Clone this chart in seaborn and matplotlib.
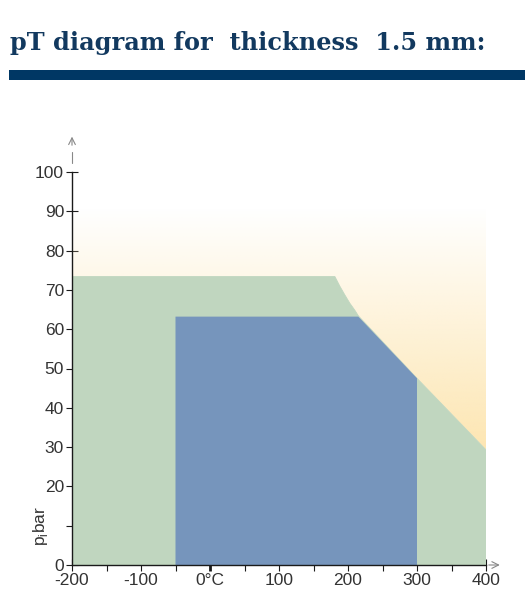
import matplotlib
matplotlib.use("Agg")
import matplotlib.pyplot as plt
from matplotlib.patches import Polygon, Rectangle
from matplotlib.colors import to_rgb
import numpy as np
import pandas as pd
import seaborn as sns

# operating envelope (temperature in °C, pressure in bar)
green_T = [-200, 181, 188, 195.5, 202.7, 210, 215, 300, 400]
green_p = [73.4, 73.4, 71.0, 68.7, 66.6, 64.8, 63.4, 47.5, 29.3]

blue_T = [-50, 215, 300, 300, -50]
blue_p = [63.2, 63.2, 47.5, 0, 0]

x_ticks = [-200, -150, -100, -50, 0, 50, 100, 150, 200, 250, 300, 350, 400]
x_labels = ["-200", "", "-100", "", "0°C", "", "100", "", "200", "", "300", "", "400"]
y_ticks = [0, 10, 20, 30, 40, 50, 60, 70, 80, 90, 100]
y_labels = ["0", "", "20", "30", "40", "50", "60", "70", "80", "90", "100"]

glow_top = 91

sns.set_theme(style="white")
plt.rcParams["font.family"] = ["Liberation Sans", "DejaVu Sans"]

fig = plt.figure(figsize=(5.25, 6.1), dpi=100)
ax = fig.add_axes([72 / 525, 45 / 610, 414 / 525, 393 / 610])

# green area
green_poly = list(zip(green_T, green_p)) + [(400, 0), (-200, 0)]
ax.add_patch(Polygon(green_poly, closed=True, facecolor="#c0d6bf", edgecolor="none", zorder=2))
df = pd.DataFrame({"T": green_T, "p": green_p})
sns.lineplot(data=df, x="T", y="p", color="#c0d6bf", linewidth=0.6, ax=ax, zorder=2)

# blue area
ax.add_patch(Polygon(list(zip(blue_T, blue_p)), closed=True, facecolor="#7695bc",
                     edgecolor="none", zorder=3))

# yellow glow above the green boundary
glow_poly = Polygon(list(zip(green_T, green_p)) + [(400, glow_top), (-200, glow_top)],
                    closed=True, facecolor="none", edgecolor="none")
ax.add_patch(glow_poly)
n = 200
t = np.linspace(0, 1, n)[:, None]
yel = np.array(to_rgb("#fde6b2"))
img = np.ones((n, 2, 4))
img[:, :, :3] = yel
img[:, :, 3] = t  # 0 at top, 1 at bottom
im = ax.imshow(img, extent=[-200, 400, min(green_p), glow_top], aspect="auto",
               origin="upper", zorder=1, interpolation="bilinear")
im.set_clip_path(glow_poly)

ax.set_xlim(-200, 400)
ax.set_ylim(0, 100)
for s in ["top", "right"]:
    ax.spines[s].set_visible(False)
for s in ["left", "bottom"]:
    ax.spines[s].set_color("#1a1a1a")
    ax.spines[s].set_linewidth(1.0)
    ax.spines[s].set_zorder(5)

ax.set_xticks(x_ticks)
ax.set_xticklabels(x_labels)
ax.set_yticks(y_ticks)
ax.set_yticklabels(y_labels)
ax.tick_params(axis="both", direction="inout", length=8.5, width=0.8, color="#1a1a1a",
               labelsize=12.5, labelcolor="#333333", pad=1.5, bottom=True, left=True)
ax.xaxis.get_major_ticks()[4].tick1line.set_markeredgewidth(2.0)
ax.set_xlabel("")
ax.set_ylabel("p$_{\\mathregular{i}}$bar", fontsize=12.5, color="#333333")
ax.yaxis.set_label_coords(-0.053, 0.10)

# axis arrows
ax.plot([0, 0], [1.023, 1.051], transform=ax.transAxes, color="#888888", lw=0.8, clip_on=False)
ax.annotate("", xy=(0, 1.097), xytext=(0, 1.061), xycoords="axes fraction",
            arrowprops=dict(arrowstyle="->", color="#888888", lw=0.8), annotation_clip=False)
ax.annotate("", xy=(1.04, 0), xytext=(1.0, 0), xycoords="axes fraction",
            arrowprops=dict(arrowstyle="->", color="#888888", lw=0.8), annotation_clip=False)

# header
fig.text(10 / 525, 1 - 50 / 610, "pT diagram for  thickness  1.5 mm:", family="DejaVu Serif",
         fontsize=17.3, fontweight="bold", color="#12395f", ha="left", va="baseline")
fig.patches.append(Rectangle((9 / 525, 1 - 80 / 610), 1, 10 / 610, transform=fig.transFigure,
                             facecolor="#003764", edgecolor="none"))

fig.savefig("out.png", dpi=100)
plt.close(fig)
